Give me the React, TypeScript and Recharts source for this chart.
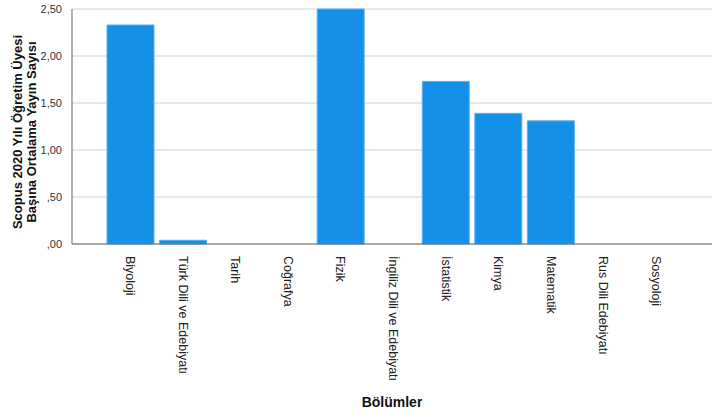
import { BarChart, Bar, XAxis, YAxis, CartesianGrid } from 'recharts';

const departments = [
  'Biyoloji',
  'Türk Dili ve Edebiyatı',
  'Tarih',
  'Coğrafya',
  'Fizik',
  'İngiliz Dili ve Edebiyatı',
  'İstatistik',
  'Kimya',
  'Matematik',
  'Rus Dili Edebiyatı',
  'Sosyoloji',
];

const averages = [2.33, 0.04, 0, 0, 2.5, 0, 1.73, 1.39, 1.31, 0, 0];

const yTicks = [0, 0.5, 1, 1.5, 2, 2.5];

const FONT = 'Arial, "Liberation Sans", sans-serif';

// SPSS style: ",50" instead of "0,50"
const fmt = (v: number) => {
  const s = v.toFixed(2).replace('.', ',');
  return s.startsWith('0,') ? s.slice(1) : s;
};

function XTick({ x, y, payload }: any) {
  return (
    <text
      transform={`translate(${x},${y + 4}) rotate(90)`}
      textAnchor="start"
      dominantBaseline="central"
      fontSize={12.5}
      fontFamily={FONT}
      fill="#222"
    >
      {payload.value}
    </text>
  );
}

function YTitle() {
  return (
    <text
      transform="translate(24,132) rotate(-90)"
      textAnchor="middle"
      fontSize={13}
      fontWeight="bold"
      fontFamily={FONT}
      fill="#111"
    >
      <tspan x={0} dy={-2}>Scopus 2020 Yılı Öğretim Üyesi</tspan>
      <tspan x={0} dy={14}>Başına Ortalama Yayın Sayısı</tspan>
    </text>
  );
}

export default function App() {
  const data = departments.map((name, i) => ({ name, value: averages[i] }));

  return (
    <div style={{ position: 'absolute', left: 0, top: 0, width: 712, height: 415, background: '#fff' }}>
      <BarChart
        width={712}
        height={415}
        data={data}
        margin={{ top: 9, right: 0, left: 0, bottom: 0 }}
        barSize={47}
      >
        <CartesianGrid vertical={false} stroke="#d2d2d2" />
        <XAxis
          dataKey="name"
          interval={0}
          height={171}
          padding={{ left: 32, right: 30 }}
          tick={<XTick />}
          tickLine={false}
          axisLine={{ stroke: '#666' }}
          label={{
            value: 'Bölümler',
            position: 'insideBottom',
            offset: 8,
            fontSize: 14,
            fontWeight: 'bold',
            fontFamily: FONT,
            fill: '#111',
          }}
        />
        <YAxis
          width={72}
          domain={[0, 2.5]}
          ticks={yTicks}
          tickFormatter={fmt}
          tickLine={false}
          tickSize={8}
          tickMargin={2}
          tick={{ fontSize: 11, fontFamily: FONT, fill: '#333' }}
          axisLine={{ stroke: '#666' }}
          label={<YTitle />}
        />
        <Bar dataKey="value" fill="#1490e6" stroke="#5cb0f0" strokeWidth={1} isAnimationActive={false} />
      </BarChart>
    </div>
  );
}
